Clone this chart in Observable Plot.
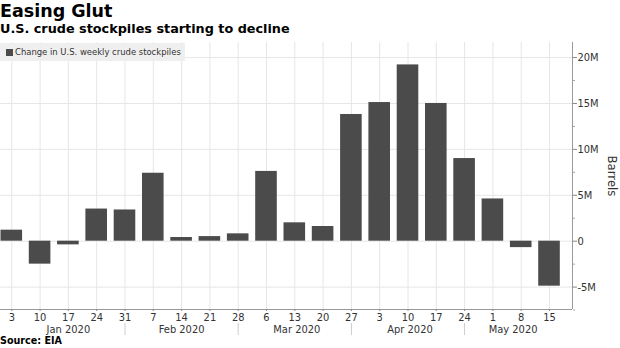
<!DOCTYPE html>
<html>
<head>
<meta charset="utf-8">
<script src="https://cdn.jsdelivr.net/npm/d3@7"></script>
<script src="https://cdn.jsdelivr.net/npm/@observablehq/plot@0.6"></script>
<style>
  html, body { margin: 0; padding: 0; background: #fff; }
  #wrap { position: relative; width: 620px; height: 348px; overflow: hidden; font-family: "DejaVu Sans", sans-serif; color: #000; }
  #title { position: absolute; left: 0; top: 0px; font-weight: bold; font-size: 17.5px; line-height: 22px; }
  #subtitle { position: absolute; left: 0; top: 21px; font-weight: bold; font-size: 12.8px; line-height: 16px; }
  #chart { position: absolute; left: 0; top: 42px; }
  #legend { position: absolute; left: 0; top: 43px; width: 185px; height: 18px; background: #efefef; font-family: "DejaVu Sans Condensed", "DejaVu Sans", sans-serif; font-size: 9.4px; color: #333; line-height: 18px; }
  #legend .sw { position: absolute; left: 6px; top: 6px; width: 7px; height: 7px; background: #4b4b4b; }
  #legend .tx { position: absolute; left: 15px; top: 0; white-space: nowrap; }
  #source { position: absolute; left: 0; top: 335px; font-weight: bold; font-size: 9.6px; line-height: 12px; }
</style>
</head>
<body>
<div id="wrap">
  <div id="title">Easing Glut</div>
  <div id="subtitle">U.S. crude stockpiles starting to decline</div>
  <div id="chart"></div>
  <div id="legend"><span class="sw"></span><span class="tx">Change in U.S. weekly crude stockpiles</span></div>
  <div id="source">Source: EIA</div>
</div>
<script>
// Weekly dates (EIA report weeks ending)
const weekDates = ["2020-01-03","2020-01-10","2020-01-17","2020-01-24","2020-01-31",
  "2020-02-07","2020-02-14","2020-02-21","2020-02-28",
  "2020-03-06","2020-03-13","2020-03-20","2020-03-27",
  "2020-04-03","2020-04-10","2020-04-17","2020-04-24",
  "2020-05-01","2020-05-08","2020-05-15"];
// Change in U.S. weekly crude stockpiles, million barrels
const changes = [1.2, -2.5, -0.4, 3.5, 3.4, 7.4, 0.4, 0.5, 0.8, 7.6, 2.0, 1.6, 13.8, 15.1, 19.2, 15.0, 9.0, 4.6, -0.7, -4.9];
// Y axis ticks
const yTicks = [-5, 0, 5, 10, 15, 20];
const yMinorTicks = [-7.5, -2.5, 2.5, 7.5, 12.5, 17.5];
// Month labels and separators
const monthLabels = ["Jan 2020", "Feb 2020", "Mar 2020", "Apr 2020", "May 2020"];
const monthLabelDates = ["2020-01-17", "2020-02-14", "2020-03-13T12:00", "2020-04-10T12:00", "2020-05-06"];
const monthSeparators = ["2020-01-31", "2020-02-28", "2020-03-27", "2020-04-24"];
const xDomain = ["2019-12-31T05:00", "2020-05-20T16:30"];
const yDomain = [-7.44, 21.64];

const parse = s => new Date(s + (s.length === 10 ? "T00:00Z" : "Z"));
const halfBar = 2.67 * 24 * 3600 * 1000;
const table = weekDates.map((d, i) => ({date: parse(d), value: changes[i]}));
const weeks = weekDates.map(parse);
const mids = monthLabelDates.map(parse);
const seps = monthSeparators.map(parse);
const xd = xDomain.map(parse);
const midLabel = new Map(mids.map((d, i) => [+d, monthLabels[i]]));
const font = '"DejaVu Sans Condensed", "DejaVu Sans", sans-serif';

const chart = Plot.plot({
  width: 620,
  height: 296,
  marginTop: 0,
  marginRight: 48,
  marginBottom: 29,
  marginLeft: 0,
  style: {fontFamily: font, fontSize: "11px", color: "#333", background: "transparent", overflow: "visible"},
  x: {type: "utc", domain: xd},
  y: {domain: yDomain},
  marks: [
    Plot.gridX(weeks, {stroke: "#e6e6e6", strokeOpacity: 1}),
    Plot.gridY(yTicks, {stroke: "#e6e6e6", strokeOpacity: 1}),
    Plot.rectY(table, {
      x1: d => new Date(+d.date - halfBar),
      x2: d => new Date(+d.date + halfBar),
      y: "value",
      fill: "#4b4b4b"
    }),
    Plot.ruleX([xd[1]], {stroke: "#999"}),
    Plot.ruleY([yDomain[0]], {stroke: "#999"}),
    Plot.axisY(yTicks, {anchor: "right", tickSize: 4, tickPadding: 1, stroke: "#888",
      tickFormat: d => d === 0 ? "0" : d + "M", label: null}),
    Plot.axisY(yMinorTicks, {anchor: "right", tickSize: 2, stroke: "#aaa", tickFormat: () => "", label: null}),
    Plot.axisX(weeks, {anchor: "bottom", tickSize: 2, tickPadding: 2, stroke: "#888", tickFormat: d3.utcFormat("%-d"), label: null}),
    Plot.axisX(mids, {anchor: "bottom", tickSize: 0, tickPadding: 16, tickFormat: d => midLabel.get(+d), label: null}),
    Plot.axisX(seps, {anchor: "bottom", tickSize: 12, dy: 14, stroke: "#ccc", tickFormat: () => "", label: null}),
    Plot.text(["Barrels"], {text: d => d, frameAnchor: "right", textAnchor: "middle", lineAnchor: "middle", dx: 40, rotate: 90, fontSize: 13, fill: "#333"})
  ]
});
document.getElementById("chart").appendChild(chart);
</script>
</body>
</html>
